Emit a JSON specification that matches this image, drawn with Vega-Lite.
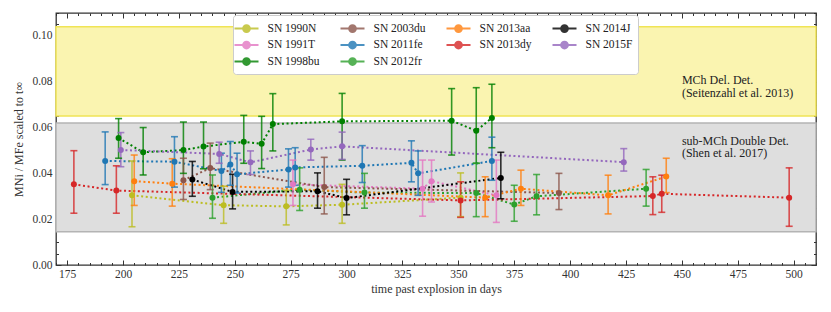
{
  "$schema": "https://vega.github.io/schema/vega-lite/v6.json",
  "autosize": "none",
  "width": 760,
  "height": 252,
  "padding": {"left": 56, "top": 13, "right": 15, "bottom": 47},
  "background": "white",
  "config": {
    "view": {"stroke": "#333333", "strokeWidth": 1.3},
    "font": "Liberation Serif",
    "axis": {
      "labelFont": "Liberation Serif",
      "titleFont": "Liberation Serif",
      "labelFontSize": 11.5,
      "titleFontSize": 12,
      "titleFontWeight": "normal",
      "labelColor": "#333333",
      "titleColor": "#333333",
      "tickColor": "#333333",
      "tickWidth": 1,
      "grid": false,
      "domain": false,
      "labelOverlap": false,
      "labelBound": false,
      "labelFlush": false
    }
  },
  "datasets": {
    "obs": [
      {"sn": "SN 1990N", "t": 204, "v": 0.0304, "lo": 0.0167, "hi": 0.0454},
      {"sn": "SN 1990N", "t": 245, "v": 0.0261, "lo": 0.0182, "hi": 0.0344},
      {"sn": "SN 1990N", "t": 273, "v": 0.0256, "lo": 0.0175, "hi": 0.0326},
      {"sn": "SN 1990N", "t": 298, "v": 0.0263, "lo": 0.0182, "hi": 0.0352},
      {"sn": "SN 1990N", "t": 351, "v": 0.0294, "lo": 0.0211, "hi": 0.0402},
      {"sn": "SN 1991T", "t": 276, "v": 0.0352, "lo": 0.026, "hi": 0.0458},
      {"sn": "SN 1991T", "t": 334, "v": 0.0333, "lo": 0.0213, "hi": 0.0458},
      {"sn": "SN 1991T", "t": 338, "v": 0.0366, "lo": 0.0275, "hi": 0.0458},
      {"sn": "SN 1991T", "t": 367, "v": 0.0304, "lo": 0.0186, "hi": 0.0458},
      {"sn": "SN 1998bu", "t": 198, "v": 0.0554, "lo": 0.0466, "hi": 0.0639},
      {"sn": "SN 1998bu", "t": 209, "v": 0.0492, "lo": 0.0393, "hi": 0.06},
      {"sn": "SN 1998bu", "t": 227, "v": 0.0502, "lo": 0.04, "hi": 0.0624},
      {"sn": "SN 1998bu", "t": 236, "v": 0.0517, "lo": 0.042, "hi": 0.0624},
      {"sn": "SN 1998bu", "t": 254, "v": 0.0538, "lo": 0.0444, "hi": 0.0653},
      {"sn": "SN 1998bu", "t": 262, "v": 0.0529, "lo": 0.0421, "hi": 0.0649},
      {"sn": "SN 1998bu", "t": 267, "v": 0.0615, "lo": 0.0498, "hi": 0.0748},
      {"sn": "SN 1998bu", "t": 298, "v": 0.0627, "lo": 0.0458, "hi": 0.0749},
      {"sn": "SN 1998bu", "t": 347, "v": 0.063, "lo": 0.048, "hi": 0.077},
      {"sn": "SN 1998bu", "t": 358, "v": 0.0586, "lo": 0.0444, "hi": 0.0774},
      {"sn": "SN 1998bu", "t": 365, "v": 0.0642, "lo": 0.0512, "hi": 0.0789},
      {"sn": "SN 2003du", "t": 227, "v": 0.037, "lo": 0.0286, "hi": 0.0466},
      {"sn": "SN 2003du", "t": 239, "v": 0.0423, "lo": 0.0329, "hi": 0.0532},
      {"sn": "SN 2003du", "t": 290, "v": 0.034, "lo": 0.0223, "hi": 0.047},
      {"sn": "SN 2003du", "t": 395, "v": 0.0314, "lo": 0.0242, "hi": 0.04},
      {"sn": "SN 2011fe", "t": 192, "v": 0.0454, "lo": 0.0351, "hi": 0.0581},
      {"sn": "SN 2011fe", "t": 223, "v": 0.0451, "lo": 0.034, "hi": 0.056},
      {"sn": "SN 2011fe", "t": 244, "v": 0.041, "lo": 0.0317, "hi": 0.0488},
      {"sn": "SN 2011fe", "t": 248, "v": 0.0439, "lo": 0.0348, "hi": 0.0539},
      {"sn": "SN 2011fe", "t": 251, "v": 0.0396, "lo": 0.0314, "hi": 0.0488},
      {"sn": "SN 2011fe", "t": 274, "v": 0.0417, "lo": 0.034, "hi": 0.0507},
      {"sn": "SN 2011fe", "t": 277, "v": 0.0426, "lo": 0.0348, "hi": 0.0512},
      {"sn": "SN 2011fe", "t": 307, "v": 0.0433, "lo": 0.036, "hi": 0.0521},
      {"sn": "SN 2011fe", "t": 329, "v": 0.0446, "lo": 0.0363, "hi": 0.0542},
      {"sn": "SN 2011fe", "t": 332, "v": 0.04, "lo": 0.0304, "hi": 0.0498},
      {"sn": "SN 2011fe", "t": 365, "v": 0.0454, "lo": 0.037, "hi": 0.0558},
      {"sn": "SN 2012fr", "t": 240, "v": 0.0294, "lo": 0.0204, "hi": 0.0393},
      {"sn": "SN 2012fr", "t": 279, "v": 0.0329, "lo": 0.0238, "hi": 0.0424},
      {"sn": "SN 2012fr", "t": 308, "v": 0.0316, "lo": 0.0248, "hi": 0.04},
      {"sn": "SN 2012fr", "t": 358, "v": 0.0314, "lo": 0.0211, "hi": 0.0444},
      {"sn": "SN 2012fr", "t": 375, "v": 0.0264, "lo": 0.0191, "hi": 0.0348},
      {"sn": "SN 2012fr", "t": 385, "v": 0.03, "lo": 0.0219, "hi": 0.0395},
      {"sn": "SN 2012fr", "t": 434, "v": 0.0333, "lo": 0.0257, "hi": 0.0417},
      {"sn": "SN 2013aa", "t": 205, "v": 0.0366, "lo": 0.026, "hi": 0.048},
      {"sn": "SN 2013aa", "t": 222, "v": 0.0355, "lo": 0.0257, "hi": 0.0464},
      {"sn": "SN 2013aa", "t": 362, "v": 0.0294, "lo": 0.0211, "hi": 0.0385},
      {"sn": "SN 2013aa", "t": 378, "v": 0.0333, "lo": 0.026, "hi": 0.0414},
      {"sn": "SN 2013aa", "t": 417, "v": 0.0304, "lo": 0.0223, "hi": 0.0392},
      {"sn": "SN 2013aa", "t": 443, "v": 0.0386, "lo": 0.0316, "hi": 0.0466},
      {"sn": "SN 2013dy", "t": 178, "v": 0.0352, "lo": 0.0226, "hi": 0.0499},
      {"sn": "SN 2013dy", "t": 197, "v": 0.0325, "lo": 0.0226, "hi": 0.0433},
      {"sn": "SN 2013dy", "t": 351, "v": 0.0282, "lo": 0.0208, "hi": 0.0363},
      {"sn": "SN 2013dy", "t": 437, "v": 0.0301, "lo": 0.022, "hi": 0.0385},
      {"sn": "SN 2013dy", "t": 441, "v": 0.0311, "lo": 0.023, "hi": 0.0392},
      {"sn": "SN 2013dy", "t": 498, "v": 0.0294, "lo": 0.0169, "hi": 0.0424},
      {"sn": "SN 2014J", "t": 231, "v": 0.0373, "lo": 0.03, "hi": 0.0452},
      {"sn": "SN 2014J", "t": 249, "v": 0.0319, "lo": 0.0245, "hi": 0.0396},
      {"sn": "SN 2014J", "t": 287, "v": 0.0322, "lo": 0.0248, "hi": 0.0402},
      {"sn": "SN 2014J", "t": 300, "v": 0.0292, "lo": 0.0219, "hi": 0.0374},
      {"sn": "SN 2014J", "t": 369, "v": 0.038, "lo": 0.0289, "hi": 0.0492},
      {"sn": "SN 2015F", "t": 199, "v": 0.0502, "lo": 0.0429, "hi": 0.0578},
      {"sn": "SN 2015F", "t": 243, "v": 0.0485, "lo": 0.0444, "hi": 0.0536},
      {"sn": "SN 2015F", "t": 257, "v": 0.0448, "lo": 0.0395, "hi": 0.0498},
      {"sn": "SN 2015F", "t": 284, "v": 0.0504, "lo": 0.0458, "hi": 0.0549},
      {"sn": "SN 2015F", "t": 298, "v": 0.0518, "lo": 0.0461, "hi": 0.058},
      {"sn": "SN 2015F", "t": 424, "v": 0.0449, "lo": 0.041, "hi": 0.0508}
    ],
    "notes": [
      {"t": 450, "v": 0.0807, "text": "MCh Del. Det."},
      {"t": 450, "v": 0.0752, "text": "(Seitenzahl et al. 2013)"},
      {"t": 450, "v": 0.0543, "text": "sub-MCh Double Det."},
      {"t": 450, "v": 0.0488, "text": "(Shen et al. 2017)"}
    ]
  },
  "layer": [
    {
      "data": {"values": [{"lo": 0.065, "hi": 0.104}]},
      "mark": {"type": "rect", "fill": "#faf4b0", "stroke": "#f0e455", "strokeWidth": 1.5},
      "encoding": {
        "y": {"field": "lo", "type": "quantitative", "scale": {"domain": [0, 0.11], "nice": false, "zero": false}, "axis": null},
        "y2": {"field": "hi"}
      }
    },
    {
      "data": {"values": [{"lo": 0.0145, "hi": 0.062}]},
      "mark": {"type": "rect", "fill": "#dedede", "stroke": "#b4b4b4", "strokeWidth": 1.5},
      "encoding": {
        "y": {"field": "lo", "type": "quantitative", "axis": null},
        "y2": {"field": "hi"}
      }
    },
    {
      "data": {"name": "obs"},
      "mark": {"type": "line", "strokeDash": [2, 2.6], "strokeWidth": 2, "strokeCap": "butt"},
      "encoding": {
        "x": {
          "field": "t", "type": "quantitative",
          "axis": {
            "orient": "top", "labels": false, "title": null,
            "values": [170,175,180,185,190,195,200,205,210,215,220,225,230,235,240,245,250,255,260,265,270,275,280,285,290,295,300,305,310,315,320,325,330,335,340,345,350,355,360,365,370,375,380,385,390,395,400,405,410,415,420,425,430,435,440,445,450,455,460,465,470,475,480,485,490,495,500,505,510],
            "tickSize": {"condition": {"test": "datum.value % 25 === 0", "value": -5}, "value": -2.5}
          }
        },
        "y": {
          "field": "v", "type": "quantitative",
          "axis": {
            "orient": "right", "labels": false, "title": null,
            "values": [0,0.005,0.01,0.015,0.02,0.025,0.03,0.035,0.04,0.045,0.05,0.055,0.06,0.065,0.07,0.075,0.08,0.085,0.09,0.095,0.1,0.105,0.11],
            "tickSize": {"condition": {"test": "abs(datum.value*50 - round(datum.value*50)) < 0.001", "value": -5}, "value": -2.5}
          }
        },
        "color": {"field": "sn", "type": "nominal"}
      }
    },
    {
      "data": {"name": "obs"},
      "mark": {"type": "rule", "strokeWidth": 1.6, "opacity": 0.8},
      "encoding": {
        "x": {"field": "t", "type": "quantitative", "axis": null},
        "y": {"field": "lo", "type": "quantitative", "axis": null},
        "y2": {"field": "hi"},
        "color": {"field": "sn", "type": "nominal"}
      }
    },
    {
      "data": {"name": "obs"},
      "mark": {"type": "tick", "orient": "horizontal", "size": 7, "thickness": 1.6, "opacity": 0.8},
      "encoding": {
        "x": {"field": "t", "type": "quantitative", "axis": null},
        "y": {"field": "lo", "type": "quantitative", "axis": null},
        "color": {"field": "sn", "type": "nominal"}
      }
    },
    {
      "data": {"name": "obs"},
      "mark": {"type": "tick", "orient": "horizontal", "size": 7, "thickness": 1.6, "opacity": 0.8},
      "encoding": {
        "x": {"field": "t", "type": "quantitative", "axis": null},
        "y": {"field": "hi", "type": "quantitative", "axis": null},
        "color": {"field": "sn", "type": "nominal"}
      }
    },
    {
      "data": {"name": "obs"},
      "mark": {"type": "point", "shape": "circle", "filled": true, "size": 36, "opacity": 1},
      "encoding": {
        "x": {
          "field": "t", "type": "quantitative",
          "scale": {"domain": [170, 510], "nice": false, "zero": false},
          "axis": {
            "orient": "bottom",
            "title": "time past explosion in days",
            "values": [170,175,180,185,190,195,200,205,210,215,220,225,230,235,240,245,250,255,260,265,270,275,280,285,290,295,300,305,310,315,320,325,330,335,340,345,350,355,360,365,370,375,380,385,390,395,400,405,410,415,420,425,430,435,440,445,450,455,460,465,470,475,480,485,490,495,500,505,510],
            "labelExpr": "datum.value % 25 === 0 ? format(datum.value, 'd') : ''",
            "tickSize": {"condition": {"test": "datum.value % 25 === 0", "value": -5}, "value": -2.5},
            "labelPadding": 8,
            "titlePadding": 1
          }
        },
        "y": {
          "field": "v", "type": "quantitative",
          "axis": {
            "orient": "left",
            "title": "MNi / MFe scaled to t∞",
            "values": [0,0.005,0.01,0.015,0.02,0.025,0.03,0.035,0.04,0.045,0.05,0.055,0.06,0.065,0.07,0.075,0.08,0.085,0.09,0.095,0.1,0.105,0.11],
            "labelExpr": "abs(datum.value*50 - round(datum.value*50)) < 0.001 ? format(datum.value, '.2f') : ''",
            "tickSize": {"condition": {"test": "abs(datum.value*50 - round(datum.value*50)) < 0.001", "value": -5}, "value": -2.5},
            "labelPadding": 9,
            "titlePadding": 6
          }
        },
        "color": {
          "field": "sn", "type": "nominal",
          "scale": {
            "domain": ["SN 1990N", "SN 2003du", "SN 2013aa", "SN 2014J", "SN 1991T", "SN 2011fe", "SN 2013dy", "SN 2015F", "SN 1998bu", "SN 2012fr"],
            "range": ["#bcbd22", "#8c564b", "#ff7f0e", "#000000", "#e377c2", "#1f77b4", "#d62728", "#9467bd", "#008000", "#2ca02c"]
          },
          "legend": {
            "title": null,
            "orient": "none",
            "direction": "horizontal",
            "legendX": 177,
            "legendY": 2,
            "columns": 4,
            "gridAlign": "all",
            "symbolType": "M-1.6,0L1.6,0M0.45,0A0.45,0.45,0,1,1,-0.45,0A0.45,0.45,0,1,1,0.45,0Z",
            "symbolSize": 225,
            "symbolStrokeWidth": 2,
            "labelFont": "Liberation Serif",
            "labelFontSize": 11.5,
            "labelColor": "#222222",
            "labelOffset": 12.5,
            "columnPadding": 16,
            "rowPadding": 0.5,
            "padding": 5,
            "fillColor": "white",
            "strokeColor": "#cccccc",
            "cornerRadius": 3,
            "encode": {
              "symbols": {
                "update": {
                  "stroke": {"scale": "color", "field": "value"},
                  "fill": {"scale": "color", "field": "value"},
                  "opacity": {"value": 1}
                }
              }
            }
          }
        }
      }
    },
    {
      "data": {"name": "notes"},
      "mark": {"type": "text", "align": "left", "baseline": "middle", "font": "Liberation Serif", "fontSize": 12, "color": "#222222"},
      "encoding": {
        "x": {"field": "t", "type": "quantitative", "axis": null},
        "y": {"field": "v", "type": "quantitative", "axis": null},
        "text": {"field": "text"}
      }
    }
  ],
  "resolve": {"axis": {"x": "independent", "y": "independent"}}
}
